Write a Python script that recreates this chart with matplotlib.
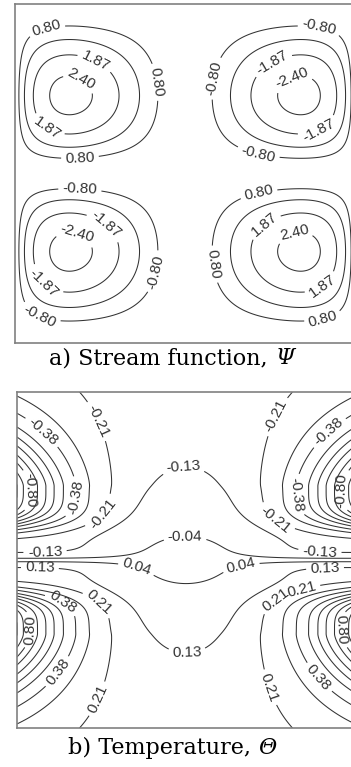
import numpy as np
import matplotlib
matplotlib.use("Agg")
import matplotlib.pyplot as plt

# contour levels
psi_levels = [-2.40, -1.87, -1.33, -0.80, 0.80, 1.33, 1.87, 2.40]
psi_labelled = [-2.40, -1.87, -0.80, 0.80, 1.87, 2.40]
theta_levels = [-1.06, -0.97, -0.89, -0.80, -0.72, -0.63, -0.55, -0.47, -0.38, -0.30, -0.21, -0.13, -0.04,
                0.04, 0.13, 0.21, 0.30, 0.38, 0.47, 0.55, 0.63, 0.72, 0.80, 0.89, 0.97, 1.06]
theta_labelled = [-0.80, -0.38, -0.21, -0.13, -0.04, 0.04, 0.13, 0.21, 0.38, 0.80]

# stream function: peak value, horizontal/vertical skew of the four cells
psi_peak = 2.58
psi_skew_x = 0.608
psi_skew_y = 1.125

# temperature: core stratification, wall plume and midline shear layer
theta_core = (0.20, 0.42)                   # amplitude, scale
theta_plume = (0.86, 0.22, 0.1215, 0.178)   # amplitude, centre, lower width, upper width
plume_decay = (0.19, 0.35, 2.55)            # linear length, gaussian length, widening to the top
theta_layer = (0.15, 0.32, 0.15, 0.02)      # amplitude, reach, height, thickness

# caption texts
captions = ["a) Stream function, ", "b) Temperature, "]
symbols = ["\u03a8", "\u0398"]

W, H = 351, 767
fig = plt.figure(figsize=(W / 100, H / 100), dpi=100)

n = 401
x = np.linspace(0, 1, n)
X, Y = np.meshgrid(x, x)


def stream_function(X, Y):
    u = np.where(X < 0.5, X / 0.5, (1 - X) / 0.5)
    fx = np.sin(np.pi * u ** psi_skew_x) * np.where(X < 0.5, 1, -1)
    v = np.where(Y > 0.5, (1 - Y) / 0.5, Y / 0.5)
    gy = np.sin(np.pi * v ** psi_skew_y) * np.where(Y > 0.5, 1, -1)
    return psi_peak * fx * gy


def temperature(X, Y):
    eta = Y - 0.5
    a = np.abs(eta)
    amp, centre, w_lo, w_hi = theta_plume
    l1, l2, widen = plume_decay
    s0, reach, height, thick = theta_layer
    total = theta_core[0] * np.tanh(a / theta_core[1])
    b = np.where(a < centre,
                 np.exp(-((centre - a) / w_lo) ** 4),
                 np.exp(-(np.abs(a - centre) / w_hi) ** 1.5))
    m = 1 + widen * np.clip(a - centre, 0, None) ** 2
    for d in (X, 1 - X):
        dm = d / m
        plume = amp * b * np.exp(-dm / l1 - (dm / l2) ** 2)
        layer = s0 * np.exp(-(d / reach) ** 3) * np.exp(-(a / height) ** 2)
        total = total + np.tanh(a / thick) * (plume + layer)
    return -np.sign(eta) * total


line_kw = dict(colors="#333333", linewidths=0.75, linestyles="solid", negative_linestyles="solid")
label_font = "Liberation Sans"


def contour_panel(ax, field, levels, labelled, positions):
    plain = [lv for lv in levels if lv not in labelled]
    if plain:
        ax.contour(X, Y, field, levels=plain, **line_kw)
    cs = ax.contour(X, Y, field, levels=labelled, **line_kw)
    labels = ax.clabel(cs, fmt="%.2f", fontsize=11, inline=True,
                       inline_spacing=2, manual=positions)
    for t in labels:
        t.set_family(label_font)
    ax.set_xlim(0, 1)
    ax.set_ylim(0, 1)
    ax.set_xticks([])
    ax.set_yticks([])
    for sp in ax.spines.values():
        sp.set_color("#808080")
        sp.set_linewidth(1.2)


# a) stream function
ax1 = fig.add_axes([15 / W, 1 - 343 / H, 340 / W, 339 / H])
psi_pos = [(0.088, 0.947), (0.235, 0.829), (0.182, 0.755), (0.418, 0.770), (0.094, 0.634), (0.191, 0.549),
           (0.897, 0.944), (0.582, 0.782), (0.756, 0.826), (0.818, 0.770), (0.891, 0.634), (0.715, 0.555),
           (0.191, 0.457), (0.274, 0.357), (0.182, 0.324), (0.418, 0.209), (0.074, 0.165), (0.068, 0.068),
           (0.715, 0.451), (0.726, 0.357), (0.818, 0.339), (0.568, 0.230), (0.906, 0.165), (0.903, 0.083)]
contour_panel(ax1, stream_function(X, Y), psi_levels, psi_labelled, psi_pos)

# b) temperature
ax2 = fig.add_axes([17 / W, 1 - 728 / H, 338 / W, 336 / H])
theta_pos = [(0.077, 0.884), (0.246, 0.917), (0.030, 0.708), (0.178, 0.685), (0.266, 0.628),
             (0.491, 0.789), (0.497, 0.583), (0.083, 0.524), (0.068, 0.485), (0.349, 0.461),
             (0.666, 0.464), (0.743, 0.940), (0.917, 0.887), (0.828, 0.693), (0.970, 0.708),
             (0.757, 0.610), (0.896, 0.524), (0.911, 0.485),
             (0.142, 0.387), (0.254, 0.387), (0.030, 0.292), (0.503, 0.226), (0.121, 0.167),
             (0.246, 0.083), (0.763, 0.387), (0.843, 0.411), (0.970, 0.292), (0.902, 0.158),
             (0.725, 0.113)]
contour_panel(ax2, temperature(X, Y), theta_levels, theta_labelled, theta_pos)

# captions, upright text followed by an italic symbol
renderer = fig.canvas.get_renderer()
for text, sym, yc in zip(captions, symbols, [358, 748]):
    t1 = fig.text(0, 1 - yc / H, text, family="DejaVu Serif", size=16, va="center")
    t2 = fig.text(0, 1 - yc / H, sym, family="DejaVu Serif", style="italic", size=16, va="center")
    w1 = t1.get_window_extent(renderer).width
    w2 = t2.get_window_extent(renderer).width
    x0 = 172 - (w1 + w2) / 2
    t1.set_x(x0 / W)
    t2.set_x((x0 + w1) / W)

fig.savefig("out.png", dpi=100)
